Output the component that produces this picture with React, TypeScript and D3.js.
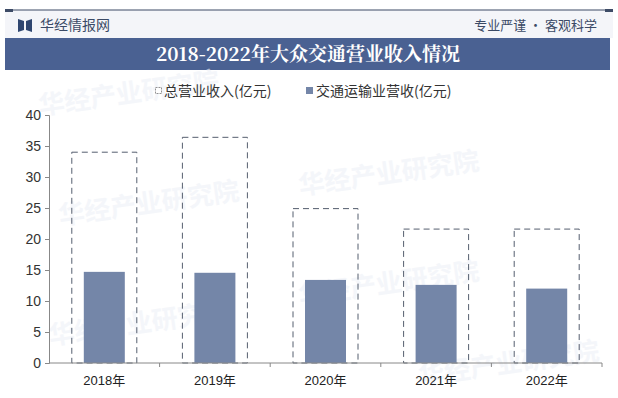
import React, { useEffect, useRef } from 'react';
import * as d3 from 'd3';

const years = ['2018年', '2019年', '2020年', '2021年', '2022年'];
const totalRevenue = [34.0, 36.4, 24.9, 21.6, 21.6];
const transportRevenue = [14.7, 14.55, 13.4, 12.6, 12.0];
const yTicks = [0, 5, 10, 15, 20, 25, 30, 35, 40];
const seriesNames = ['总营业收入(亿元)', '交通运输业营收(亿元)'];

const App = () => {
  const ref = useRef<SVGSVGElement | null>(null);

  useEffect(() => {
    if (!ref.current) return;
    const width = 618;
    const height = 398;
    const svg = d3.select(ref.current);
    svg.selectAll('*').remove();
    svg.attr('width', width).attr('height', height);

    svg.append('rect').attr('width', width).attr('height', height).attr('fill', '#fff');

    // header strip
    svg.append('rect').attr('x', 5).attr('y', 10).attr('width', 608).attr('height', 28).attr('fill', '#f4f5f9');
    svg.append('line').attr('x1', 5).attr('x2', 613).attr('y1', 10).attr('y2', 10)
      .attr('stroke', '#3d4b66').attr('stroke-width', 1.2);
    svg.append('rect').attr('x', 5).attr('y', 9).attr('width', 8).attr('height', 3).attr('fill', '#3d4b66');
    svg.append('rect').attr('x', 605).attr('y', 9).attr('width', 8).attr('height', 3).attr('fill', '#3d4b66');

    // logo
    svg.append('path').attr('d', 'M18,19 L24,21 L24,30 L18,32 Z').attr('fill', '#2f4670');
    svg.append('path').attr('d', 'M32,19 L26,21 L26,30 L32,32 Z').attr('fill', '#2f4670');
    svg.append('text').attr('x', 40).attr('y', 30).text('华经情报网')
      .style('font-family', 'Noto Sans CJK SC').style('font-size', '14px').attr('fill', '#3b4a66');
    svg.append('text').attr('x', 597).attr('y', 30).attr('text-anchor', 'end').text('专业严谨 • 客观科学')
      .style('font-family', 'Noto Sans CJK SC').style('font-size', '13px').attr('fill', '#3b4a66');

    // title band
    svg.append('rect').attr('x', 5).attr('y', 38).attr('width', 605).attr('height', 32).attr('fill', '#4a6192');
    svg.append('text').attr('x', 308).attr('y', 61).attr('text-anchor', 'middle')
      .text('2018-2022年大众交通营业收入情况')
      .style('font-family', 'Noto Serif CJK SC, Noto Sans CJK SC').style('font-size', '19px')
      .style('font-weight', 'bold').attr('fill', '#fff');

    // watermarks
    const wm = [[40, 115], [300, 195], [60, 225], [300, 305], [50, 345], [420, 385]];
    wm.forEach(([x, y]) => {
      svg.append('text').attr('x', x).attr('y', y).attr('transform', `rotate(-8 ${x} ${y})`)
        .text('华经产业研究院').style('font-family', 'Noto Sans CJK SC').style('font-size', '26px')
        .style('font-weight', 'bold').attr('fill', '#eef1f7').attr('opacity', 0.6);
    });

    const margin = { left: 49, right: 16, top: 115, bottom: 35 };
    const x = d3.scaleBand().domain(years).range([margin.left, width - margin.right]);
    const y = d3.scaleLinear().domain([0, 40]).range([height - margin.bottom, margin.top]);

    const font = 'Liberation Sans, Arial, sans-serif';

    // y axis
    const yAxis = svg.append('g').attr('transform', `translate(${margin.left},0)`)
      .call(d3.axisLeft(y).tickValues(yTicks).tickSize(4).tickPadding(4));
    yAxis.selectAll('path, line').attr('stroke', '#888');
    yAxis.selectAll('text').style('font-family', font).style('font-size', '14px').attr('fill', '#333');

    // bars: outline totals
    const outerW = 65;
    const innerW = 41;
    svg.append('g').selectAll('rect').data(totalRevenue).enter().append('rect')
      .attr('x', (d, i) => (x(years[i]) as number) + x.bandwidth() / 2 - outerW / 2)
      .attr('y', d => y(d))
      .attr('width', outerW)
      .attr('height', d => y(0) - y(d))
      .attr('fill', 'none')
      .attr('stroke', '#555e6e')
      .attr('stroke-width', 1)
      .attr('stroke-dasharray', '6,4');

    svg.append('g').selectAll('rect').data(transportRevenue).enter().append('rect')
      .attr('x', (d, i) => (x(years[i]) as number) + x.bandwidth() / 2 - innerW / 2)
      .attr('y', d => y(d))
      .attr('width', innerW)
      .attr('height', d => y(0) - y(d))
      .attr('fill', '#7486a8');

    // x axis
    const xAxisG = svg.append('g').attr('transform', `translate(0,${y(0)})`);
    xAxisG.append('line').attr('x1', margin.left).attr('x2', width - margin.right)
      .attr('stroke', '#888');
    const bounds = years.map(yr => (x(yr) as number) + x.bandwidth());
    xAxisG.selectAll('line.tick').data(bounds).enter().append('line')
      .attr('x1', d => d).attr('x2', d => d).attr('y1', 0).attr('y2', 4).attr('stroke', '#888');
    xAxisG.selectAll('text').data(years).enter().append('text')
      .attr('x', d => (x(d) as number) + x.bandwidth() / 2)
      .attr('y', 22)
      .attr('text-anchor', 'middle')
      .text(d => d)
      .style('font-family', 'Liberation Sans, Noto Sans CJK SC, sans-serif').style('font-size', '13px').attr('fill', '#222');

    // legend
    const lg = svg.append('g');
    lg.append('rect').attr('x', 155.5).attr('y', 87.5).attr('width', 6).attr('height', 6)
      .attr('fill', '#fff').attr('stroke', '#777').attr('stroke-width', 0.8).attr('stroke-dasharray', '2,1');
    lg.append('text').attr('x', 164).attr('y', 96).text(seriesNames[0])
      .style('font-family', 'Noto Sans CJK SC').style('font-size', '14px').attr('fill', '#333');
    lg.append('rect').attr('x', 306).attr('y', 87).attr('width', 7).attr('height', 7).attr('fill', '#7486a8');
    lg.append('text').attr('x', 316).attr('y', 96).text(seriesNames[1])
      .style('font-family', 'Noto Sans CJK SC').style('font-size', '14px').attr('fill', '#333');
  }, []);

  return <svg ref={ref} style={{ display: 'block', position: 'absolute', left: 0, top: 0 }} />;
};

export default App;
